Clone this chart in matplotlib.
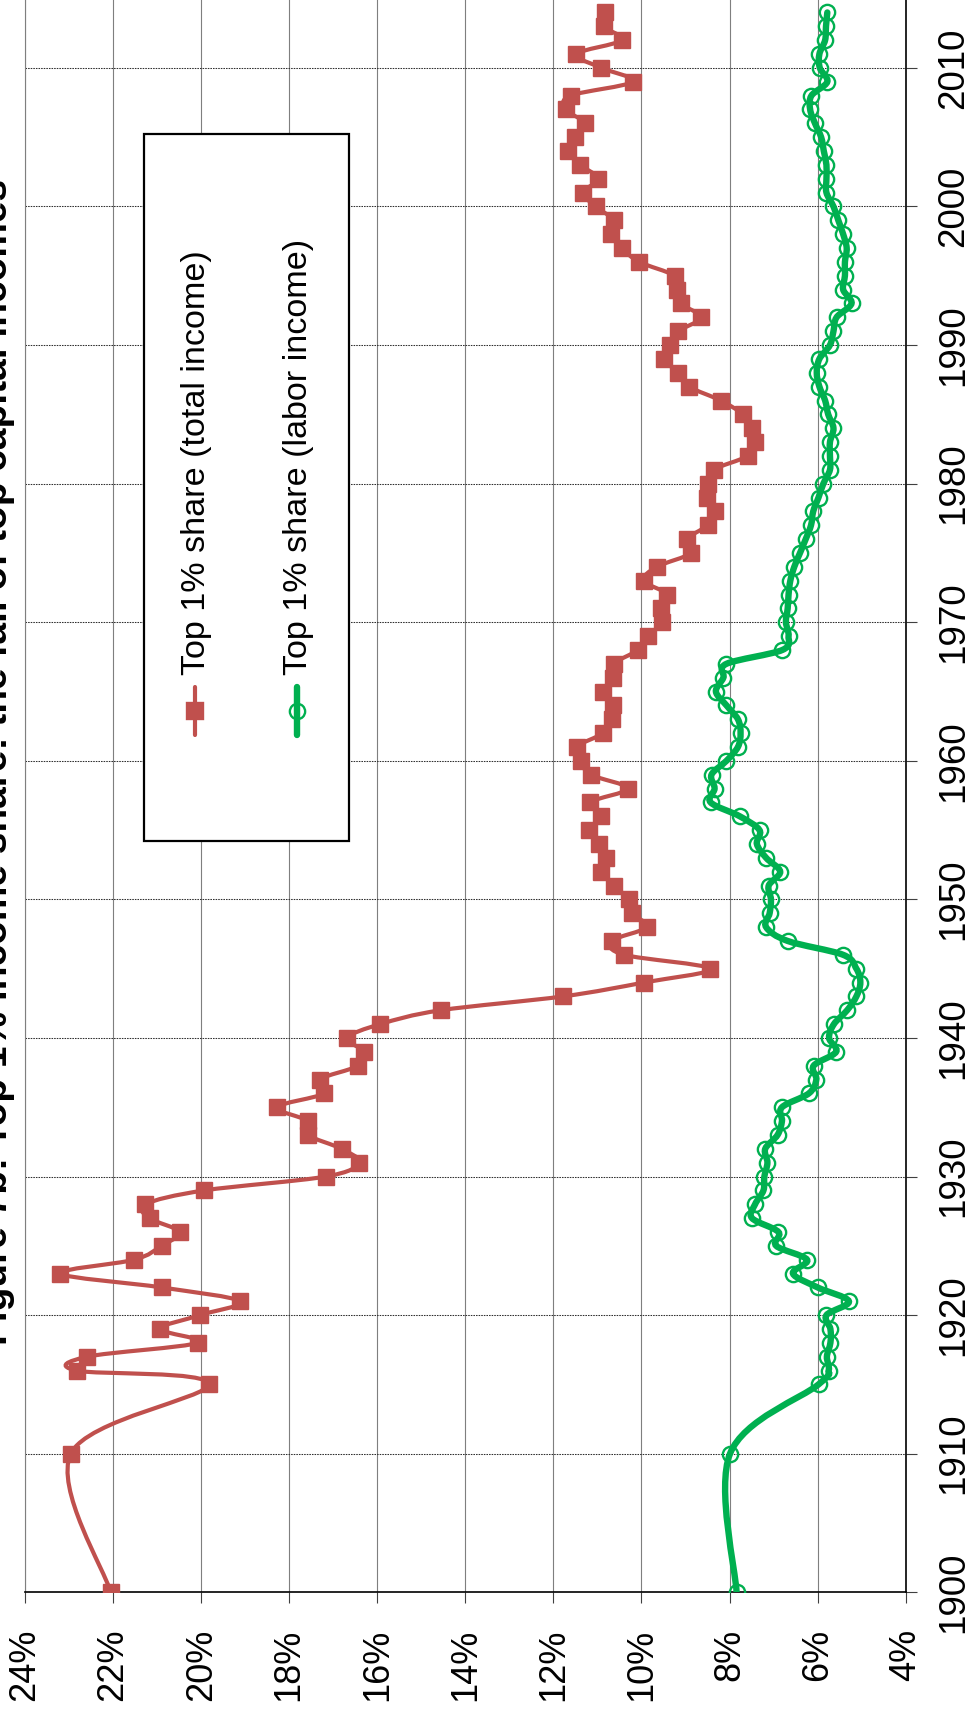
import numpy as np
import matplotlib.pyplot as plt
from matplotlib.path import Path
from matplotlib.patches import PathPatch, Rectangle
from matplotlib.lines import Line2D

plt.rcParams['font.family'] = ['Liberation Sans', 'DejaVu Sans']

# years on the (rotated) vertical axis
years = [1900, 1910] + list(range(1915, 2015))

# top 1% share of total income (%)
total_share = [
    22.05, 22.96,
    19.83, 22.83, 22.59, 20.08, 20.93,
    20.03, 19.11, 20.90, 23.20, 21.52, 20.90, 20.49, 21.17, 21.27, 19.93,
    17.17, 16.41, 16.81, 17.57, 17.57, 18.28, 17.20, 17.31, 16.43, 16.30,
    16.68, 15.93, 14.56, 11.78, 9.95, 8.44, 10.39, 10.67, 9.88, 10.22,
    10.29, 10.63, 10.91, 10.80, 10.97, 11.19, 10.91, 11.16, 10.31, 11.15,
    11.38, 11.47, 10.87, 10.67, 10.65, 10.87, 10.65, 10.63, 10.08, 9.85,
    9.54, 9.56, 9.41, 9.95, 9.65, 8.87, 8.96, 8.50, 8.33, 8.52,
    8.48, 8.36, 7.59, 7.42, 7.50, 7.70, 8.20, 8.92, 9.17, 9.48,
    9.36, 9.16, 8.64, 9.11, 9.19, 9.25, 10.05, 10.45, 10.70, 10.63,
    11.04, 11.33, 10.98, 11.39, 11.67, 11.51, 11.28, 11.72, 11.61, 10.20,
    10.91, 11.48, 10.45, 10.86, 10.83,
]

# top 1% share of labor income (%)
labor_share = [
    7.84, 7.99,
    5.98, 5.75, 5.79, 5.71, 5.71,
    5.80, 5.29, 6.00, 6.56, 6.24, 6.94, 6.89, 7.49, 7.42, 7.23,
    7.21, 7.14, 7.19, 6.91, 6.81, 6.81, 6.20, 6.03, 6.09, 5.58,
    5.74, 5.63, 5.33, 5.12, 5.03, 5.12, 5.42, 6.68, 7.17, 7.09,
    7.06, 7.11, 6.85, 7.17, 7.38, 7.32, 7.77, 8.43, 8.34, 8.41,
    8.07, 7.81, 7.75, 7.81, 8.07, 8.31, 8.14, 8.07, 6.80, 6.66,
    6.72, 6.68, 6.66, 6.62, 6.53, 6.40, 6.27, 6.15, 6.10, 5.98,
    5.87, 5.72, 5.72, 5.72, 5.64, 5.76, 5.83, 5.96, 6.02, 5.96,
    5.72, 5.64, 5.57, 5.23, 5.42, 5.38, 5.38, 5.34, 5.42, 5.53,
    5.64, 5.80, 5.80, 5.80, 5.86, 5.92, 6.06, 6.17, 6.14, 5.78,
    5.95, 5.96, 5.83, 5.81, 5.78,
]

pct_ticks = list(range(4, 25, 2))
year_ticks = list(range(1900, 2011, 10))

title = "Figure 7b: Top 1% income share: the fall of top capital incomes"
label_total = "Top 1% share (total income)"
label_labor = "Top 1% share (labor income)"

RED = '#C0504D'
GREEN = '#00B050'


def smooth_path(xs, ys):
    """Excel-like smoothed line: cubic Bezier segments with Catmull-Rom tangents."""
    pts = np.column_stack([xs, ys]).astype(float)
    ext = np.vstack([pts[0], pts, pts[-1]])
    verts = [pts[0]]
    codes = [Path.MOVETO]
    for i in range(len(pts) - 1):
        p0, p1, p2, p3 = ext[i], ext[i + 1], ext[i + 2], ext[i + 3]
        c1 = p1 + (p2 - p0) / 6.0
        c2 = p2 - (p3 - p1) / 6.0
        verts += [c1, c2, p2]
        codes += [Path.CURVE4] * 3
    return Path(verts, codes)


W, H = 969, 1718
fig = plt.figure(figsize=(W / 100, H / 100), dpi=100)
ax = fig.add_axes([25 / W, 1 - 1592.3 / H, (905.7 - 25) / W, 1592.3 / H])

ax.set_xlim(24, 4)
ax.set_ylim(1900, 2014.9)

# gridlines: solid for the shares, dotted for the decades
for p in pct_ticks:
    ax.axvline(p, color='#7f7f7f', lw=0.8, zorder=1)
for yr in year_ticks[1:]:
    ax.axhline(yr, color='#303030', lw=0.75, ls=(0, (1.5, 1)), zorder=1)

for vals, col, lw in [(total_share, RED, 3.0), (labor_share, GREEN, 4.6)]:
    ax.add_patch(PathPatch(smooth_path(vals, years), fill=False,
                           edgecolor=col, lw=lw, zorder=3, capstyle='round'))

ax.plot(total_share, years, ls='none', marker='s', ms=11.5, color=RED,
        mec=RED, zorder=4)
ax.plot(labor_share, years, ls='none', marker='o', ms=11, mfc='none',
        mec=GREEN, mew=1.7, zorder=4)

ax.set_xticks(pct_ticks)
ax.set_xticklabels([f"{p}%" for p in pct_ticks])
ax.yaxis.tick_right()
ax.set_yticks(year_ticks)
ax.set_yticklabels([str(y) for y in year_ticks])
ax.tick_params(axis='x', direction='out', length=8, width=0.8,
               labelsize=26, pad=18, labelrotation=90, color='#404040')
ax.tick_params(axis='y', direction='out', length=8, width=0.8,
               labelsize=26.5, pad=14, labelrotation=90, color='#404040')
for lab in ax.get_yticklabels():
    lab.set_va('center')
    lab.set_ha('left')

ax.spines['top'].set_visible(False)
ax.spines['left'].set_color('#7f7f7f')
ax.spines['left'].set_linewidth(0.8)
ax.spines['bottom'].set_color('black')
ax.spines['bottom'].set_linewidth(1.2)
ax.spines['right'].set_color('black')
ax.spines['right'].set_linewidth(1.2)

# legend drawn by hand so that it can be rotated like the rest of the chart
ft = fig.transFigure
ax.add_patch(Rectangle((144 / W, 1 - 841 / H), 205 / W, 707 / H,
                       transform=ft, facecolor='white', edgecolor='black',
                       lw=1.6, zorder=6, clip_on=False))
entries = [(195, RED, 's', RED, 3.0, label_total),
           (297, GREEN, 'o', 'none', 4.6, label_labor)]
for xp, col, mk, fc, lw, lab in entries:
    fig.add_artist(Line2D([xp / W, xp / W], [1 - 687 / H, 1 - 735 / H],
                          transform=ft, color=col, lw=lw, zorder=7,
                          solid_capstyle='round'))
    fig.add_artist(Line2D([xp / W], [1 - 711 / H], transform=ft, marker=mk,
                          ms=11.5 if mk == 's' else 11, mfc=fc, mec=col,
                          mew=1.7, ls='none', zorder=8))
    fig.text((xp + 2) / W, 1 - 675 / H, lab, rotation=90, ha='center',
             va='bottom', fontsize=24.6, zorder=9)

fig.text(15 / W, 1 - 762 / H, title, rotation=90, ha='right', va='center',
         fontsize=28, fontweight='bold')

fig.savefig('out.png', dpi=100)
